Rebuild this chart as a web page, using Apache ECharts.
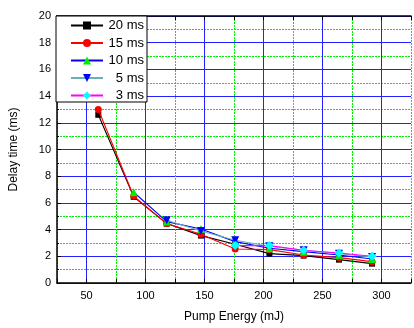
<!DOCTYPE html>
<html><head><meta charset="utf-8">
<script src="https://cdn.jsdelivr.net/npm/echarts@6/dist/echarts.min.js"></script>
<style>html,body{margin:0;padding:0;background:#fff}#c{width:414px;height:328px}</style>
</head><body><div id="c"></div>
<script>
const pumpEnergy = [60, 90, 118, 147, 176, 205, 234, 264, 292];
const ms20 = [12.6, 6.45, 4.45, 3.55, 2.9, 2.2, 2.05, 1.75, 1.45];
const ms15 = [13.0, 6.5, 4.45, 3.65, 2.55, 2.5, 2.1, 1.9, 1.6];
const ms10 = [null, 6.8, 4.6, 4.05, 3.1, 2.6, 2.35, 2.1, 1.8];
const ms5  = [null, null, 4.7, 3.9, 3.2, 2.75, 2.45, 2.2, 1.95];
const ms3  = [null, null, null, null, 2.8, 2.8, 2.45, 2.25, 2.0];
const seriesNames = ['20 ms', '15 ms', '10 ms', '5 ms', '3 ms'];
const xTicks = [50, 100, 150, 200, 250, 300];
const yTicks = [0, 2, 4, 6, 8, 10, 12, 14, 16, 18, 20];

const FONT = 'Liberation Sans';
const pair = arr => pumpEnergy.map((x, i) => [x, arr[i]]).filter(p => p[1] !== null);
const styles = [
  {line:'#000000', mark:'#000000', symbol:'rect', size:6},
  {line:'#ff0000', mark:'#ff0000', symbol:'circle', size:7},
  {line:'#0000ff', mark:'#00ee00', symbol:'triangle', size:8},
  {line:'#66b3b3', mark:'#0000ff', symbol:'triangle', size:8, rotate:180},
  {line:'#ff00ff', mark:'#00ffff', symbol:'diamond', size:9}
];
const datasets = [ms20, ms15, ms10, ms5, ms3];
const series = datasets.map((d, i) => ({
  name: seriesNames[i], type: 'line', data: pair(d),
  symbol: styles[i].symbol, symbolSize: styles[i].size, symbolRotate: styles[i].rotate || 0,
  showAllSymbol: true,
  lineStyle: {color: styles[i].line, width: 1.1},
  itemStyle: {color: styles[i].mark},
  emphasis: {disabled: true}, animation: false, z: 3 + i
}));

const chart = echarts.init(document.getElementById('c'), null, {renderer: 'canvas'});
chart.setOption({
  animation: false,
  backgroundColor: '#fff',
  grid: {left: 56, top: 16, right: -3, bottom: 41},
  legend: {
    data: seriesNames, orient: 'vertical', left: 56, top: 16,
    padding: [3, 3, 0, 14], itemGap: 4.5, itemWidth: 32, itemHeight: 10,
    backgroundColor: '#fff', borderColor: '#000', borderWidth: 1, z: 10,
    formatter: '{a|{name}}',
    textStyle: {fontFamily: FONT, fontSize: 13, color: '#000',
      rich: {a: {width: 36, align: 'right', fontFamily: FONT, fontSize: 13, lineHeight: 15}}}
  },
  xAxis: [{
    type: 'value', min: 25, max: 325, interval: 25,
    name: 'Pump Energy (mJ)', nameLocation: 'middle', nameGap: 28,
    nameTextStyle: {fontFamily: FONT, fontSize: 12, color: '#000'},
    axisLine: {show: true, onZero: false, lineStyle: {color: '#000', width: 1.5}},
    axisTick: {show: true, inside: true, length: 4, lineStyle: {color: '#000'}},
    axisLabel: {fontFamily: FONT, fontSize: 11, color: '#000', margin: 7,
      formatter: v => xTicks.includes(v) ? String(v) : ''},
    splitLine: {show: true, lineStyle: {color: ['#00ee00', 'rgba(0,0,0,0)'], type: [2, 1], width: 1}}
  }, {
    type: 'value', min: 25, max: 325, interval: 25, position: 'top',
    axisLine: {show: true, onZero: false, lineStyle: {color: '#000', width: 1.5}},
    axisTick: {show: true, inside: true, length: 4, lineStyle: {color: '#000'}},
    axisLabel: {show: false},
    splitLine: {show: true, lineStyle: {color: ['rgba(0,0,0,0)', '#2222ff'], width: 1}}
  }],
  yAxis: [{
    type: 'value', min: 0, max: 20, interval: 2,
    name: 'Delay time (ms)', nameLocation: 'middle', nameGap: 37, nameRotate: 90,
    nameTextStyle: {fontFamily: FONT, fontSize: 12, color: '#000'},
    axisLine: {show: true, onZero: false, lineStyle: {color: '#000', width: 1.5}},
    axisTick: {show: true, inside: true, length: 4, lineStyle: {color: '#000'}},
    minorTick: {show: true, splitNumber: 2, length: 2, lineStyle: {color: '#000'}},
    axisLabel: {fontFamily: FONT, fontSize: 11, color: '#000', margin: 6,
      formatter: v => yTicks.includes(v) ? String(v) : ''},
    splitLine: {show: true, lineStyle: {color: '#2222ff', width: 1}},
    minorSplitLine: {show: true, lineStyle: {color: '#00ee00', type: [2, 1], width: 1}}
  }],
  series: series
});
</script></body></html>
